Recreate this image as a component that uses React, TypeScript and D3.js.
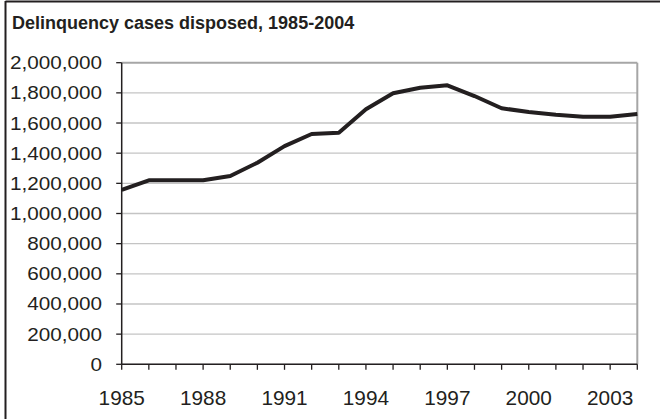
import React from "react";
import * as d3 from "d3";

const years: number[] = [
  1985, 1986, 1987, 1988, 1989, 1990, 1991, 1992, 1993, 1994,
  1995, 1996, 1997, 1998, 1999, 2000, 2001, 2002, 2003, 2004,
];
const cases: number[] = [
  1156000, 1220000, 1220000, 1220000, 1249000, 1337000, 1447000, 1527000, 1536000, 1691000,
  1797000, 1834000, 1850000, 1779000, 1698000, 1673000, 1655000, 1642000, 1642000, 1660000,
];
const yTicks: number[] = [0, 200000, 400000, 600000, 800000, 1000000, 1200000, 1400000, 1600000, 1800000, 2000000];
const xLabelYears: number[] = [1985, 1988, 1991, 1994, 1997, 2000, 2003];
const title = "Delinquency cases disposed, 1985-2004";

const W = 660;
const H = 419;
const plot = { left: 121.7, right: 637.3, top: 62.7, bottom: 364.3 };
const ink = "#231f20";

export default function App() {
  const x = d3.scaleLinear().domain([1985, 2004]).range([plot.left, plot.right]);
  const y = d3.scaleLinear().domain([0, 2000000]).range([plot.bottom, plot.top]);
  const fmt = d3.format(",");
  const line = d3
    .line<number>()
    .x((_, i) => x(years[i]))
    .y((d) => y(d));

  return (
    <svg
      width={W}
      height={H}
      style={{ position: "absolute", left: 0, top: 0, background: "#fff" }}
      fontFamily="'Liberation Sans', Arial, sans-serif"
    >
      <rect x={0} y={0} width={W} height={H} fill="#fff" />
      {/* outer frame */}
      <line x1={5.5} x2={W} y1={1.5} y2={1.5} stroke={ink} strokeWidth={2} />
      <line x1={5.5} x2={5.5} y1={1} y2={H} stroke={ink} strokeWidth={2} />
      <text x={12} y={28.5} fontSize={18} fontWeight="bold" fill={ink}>
        {title}
      </text>
      {/* gridlines */}
      {yTicks.map((t) => (
        <line
          key={"g" + t}
          x1={plot.left}
          x2={plot.right}
          y1={y(t)}
          y2={y(t)}
          stroke={t === 2000000 ? "#a6a6a6" : "#c4c4c4"}
          strokeWidth={t === 2000000 ? 2 : 1.3}
        />
      ))}
      {/* plot right border */}
      <line x1={plot.right} x2={plot.right} y1={plot.top} y2={plot.bottom} stroke="#a6a6a6" strokeWidth={2} />
      {/* y axis */}
      <line x1={plot.left} x2={plot.left} y1={plot.top} y2={plot.bottom} stroke={ink} strokeWidth={1.5} />
      {yTicks.map((t) => (
        <g key={"y" + t}>
          <line x1={plot.left - 5.5} x2={plot.left} y1={y(t)} y2={y(t)} stroke={ink} strokeWidth={1.3} />
          <text
            transform={`translate(102,${y(t)}) scale(1.15,1)`}
            dy="0.36em"
            textAnchor="end"
            fontSize={18}
            fill={ink}
          >
            {fmt(t)}
          </text>
        </g>
      ))}
      {/* x axis */}
      <line x1={plot.left} x2={plot.right} y1={plot.bottom} y2={plot.bottom} stroke={ink} strokeWidth={1.5} />
      {years.map((yr) => (
        <line key={"xt" + yr} x1={x(yr)} x2={x(yr)} y1={plot.bottom} y2={plot.bottom + 5.5} stroke={ink} strokeWidth={1.3} />
      ))}
      {xLabelYears.map((yr) => (
        <text key={"xl" + yr} x={x(yr)} y={405} textAnchor="middle" fontSize={20.8} fill={ink}>
          {yr}
        </text>
      ))}
      {/* data line */}
      <path d={line(cases) || ""} fill="none" stroke={ink} strokeWidth={4} strokeLinejoin="round" />
    </svg>
  );
}
